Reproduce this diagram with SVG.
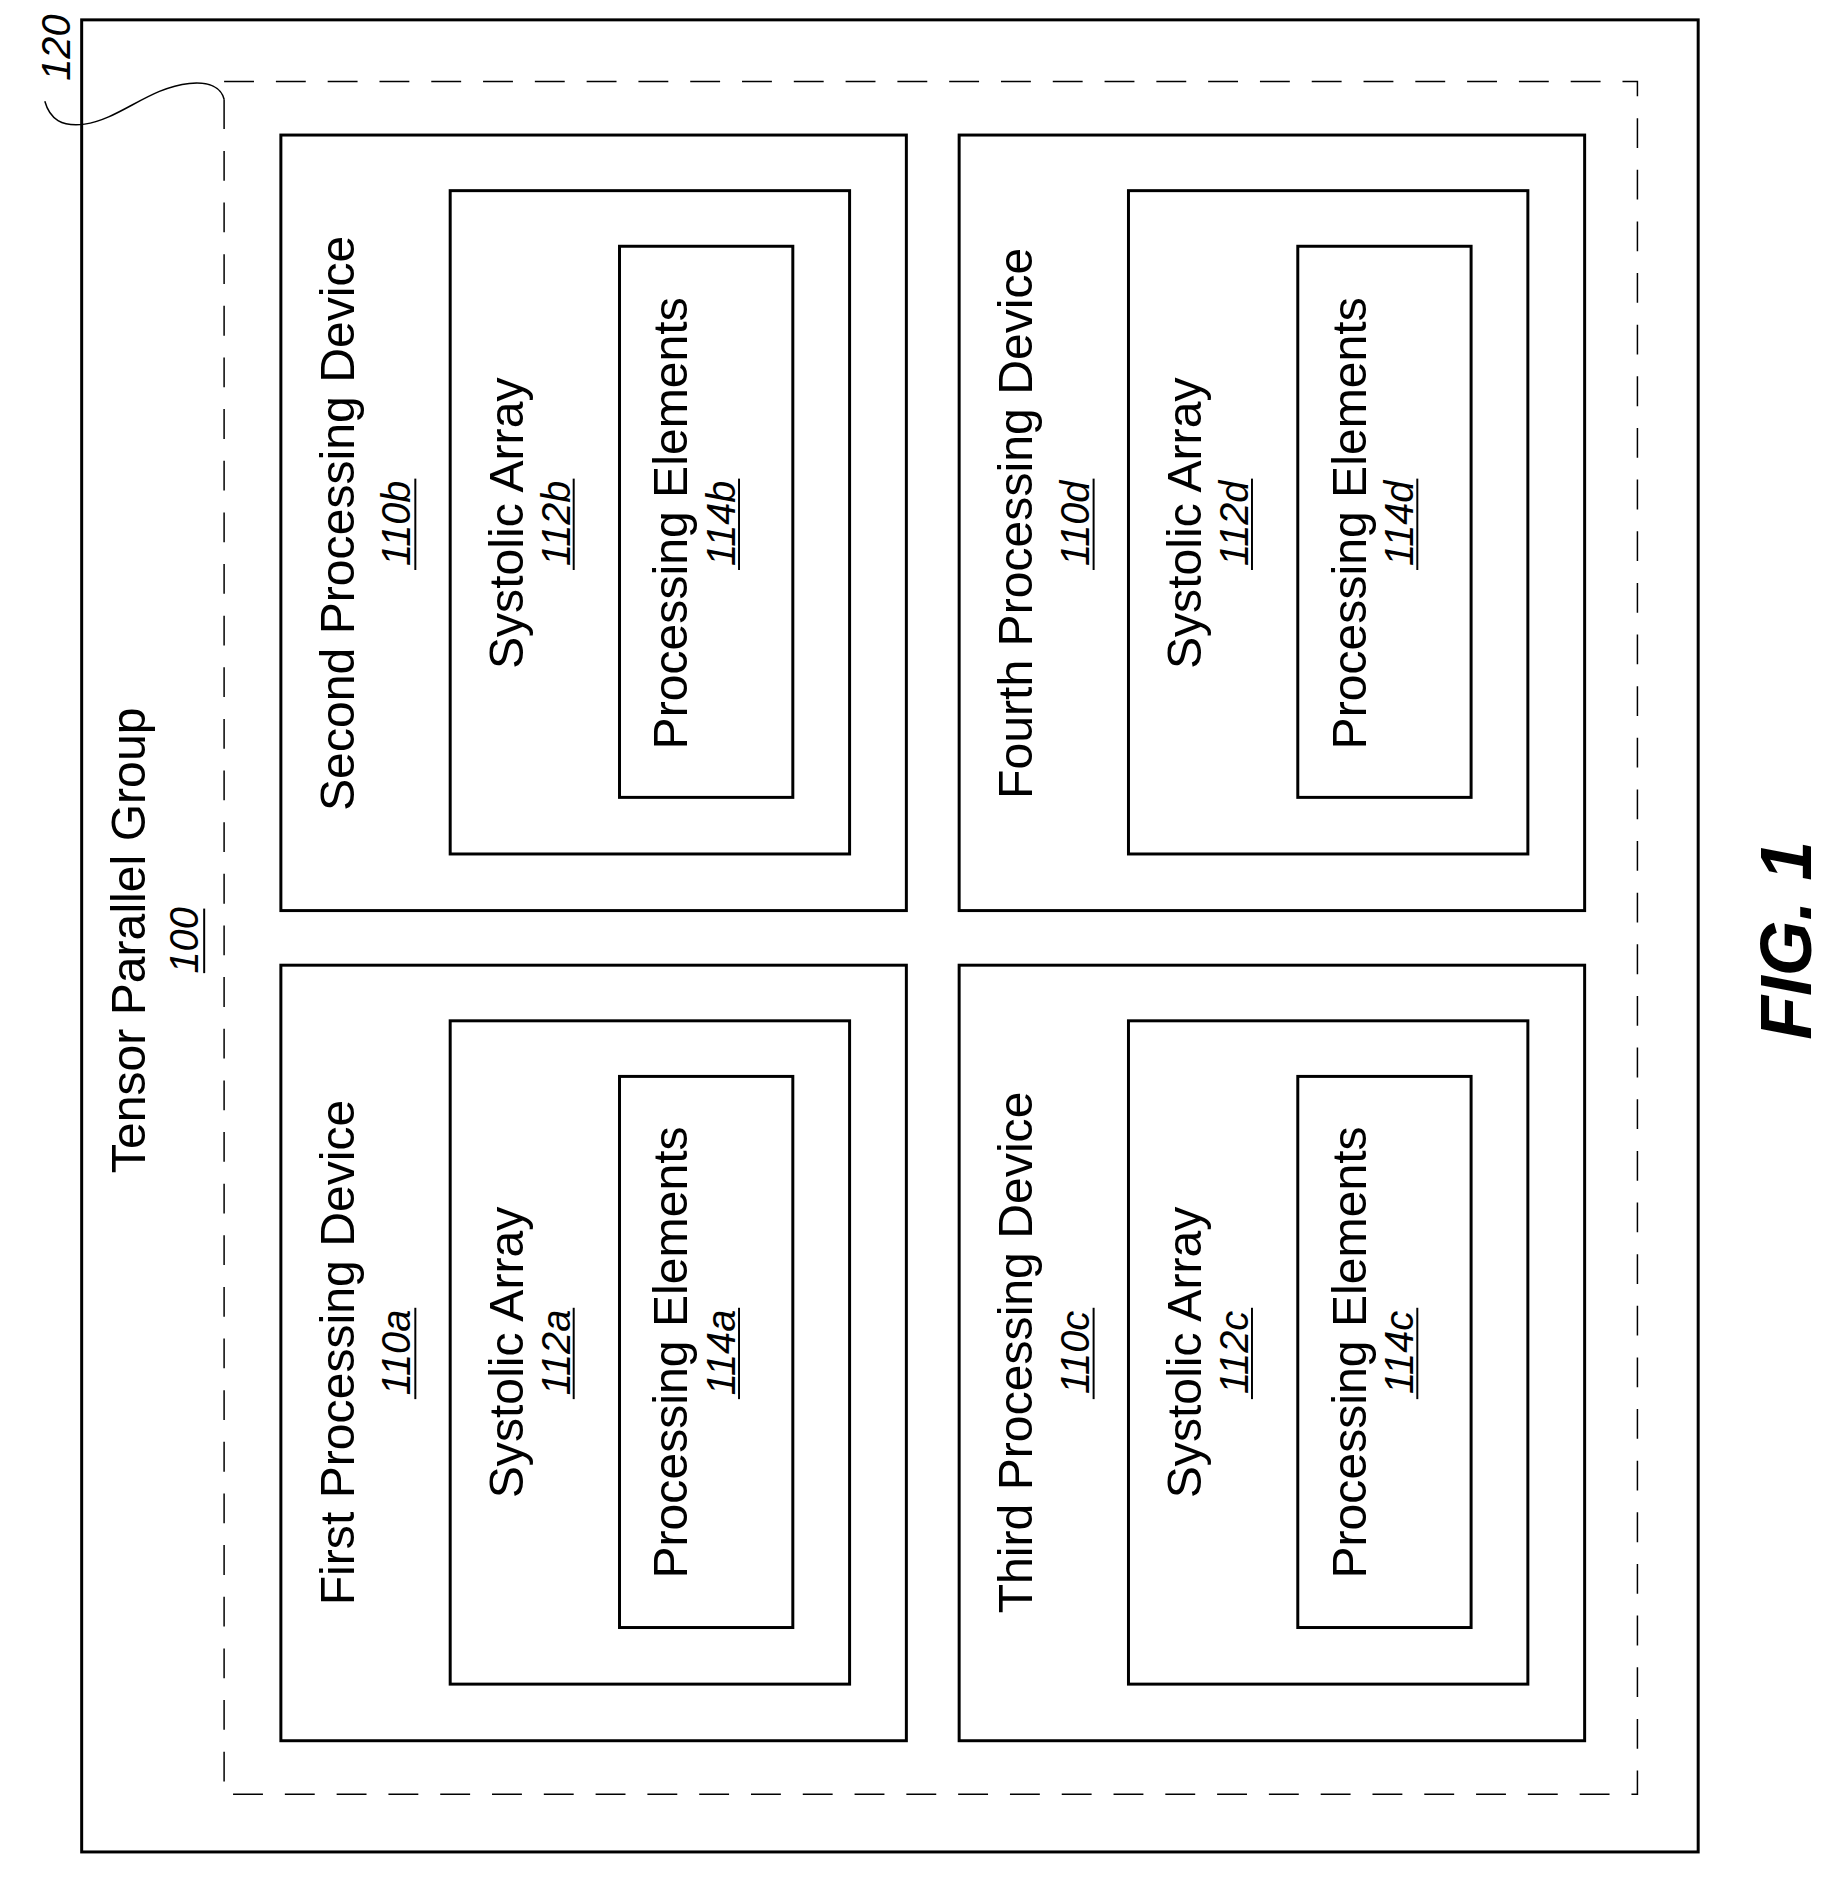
<svg xmlns="http://www.w3.org/2000/svg" width="1843" height="1878" viewBox="0 0 1843 1878">
<style>
.b{fill:none;stroke:#000;stroke-width:3}
.t{font-family:"Liberation Sans",Arial,sans-serif;font-size:48.5px;text-anchor:middle}
.n{font-family:"Liberation Sans",Arial,sans-serif;font-size:40px;font-style:italic;text-anchor:middle}
.u{stroke:#000;stroke-width:2}
</style>
<rect width="1843" height="1878" fill="#fff"/>
<g transform="scale(0.996,0.993)">
<g id="group120">
<rect class="b" x="82" y="20" width="1623" height="1845"/>
<rect x="225" y="82" width="1419" height="1725" fill="none" stroke="#000" stroke-width="1.5" stroke-dasharray="30,22"/>
<text class="t" transform="translate(146,947) rotate(-90)">Tensor Parallel Group</text>
<text class="n" transform="translate(199,947) rotate(-90)">100</text>
<line class="u" x1="205" y1="915" x2="205" y2="980"/>
<text class="n" transform="translate(70,48) rotate(-90)">120</text>
</g>
<g id="connectors">
<path d="M45,102 C50,120 62,128 85,125 C120,120 150,88 190,84 C210,82 222,88 225,100" fill="none" stroke="#000" stroke-width="1.5"/>
</g>
<defs>
<g id="dev">
<rect class="b" x="282" y="0" width="628" height="781"/>
<rect class="b" x="452" y="56" width="401" height="668"/>
<rect class="b" x="622" y="112" width="174" height="555"/>
</g>
</defs>
<g id="dev110b">
<use href="#dev" y="136"/>
<text class="t" transform="translate(355,527) rotate(-90)">Second Processing Device</text>
<text class="n" transform="translate(412,527) rotate(-90)">110b</text><line class="u" x1="417" y1="482" x2="417" y2="574"/>
<text class="t" transform="translate(525,527) rotate(-90)">Systolic Array</text>
<text class="n" transform="translate(572,527) rotate(-90)">112b</text><line class="u" x1="576" y1="482" x2="576" y2="574"/>
<text class="t" transform="translate(690,527) rotate(-90)">Processing Elements</text>
<text class="n" transform="translate(738,527) rotate(-90)">114b</text><line class="u" x1="742" y1="482" x2="742" y2="574"/>
</g>
<g id="dev110a">
<use href="#dev" y="972"/>
<text class="t" transform="translate(355,1362) rotate(-90)">First Processing Device</text>
<text class="n" transform="translate(412,1362) rotate(-90)">110a</text><line class="u" x1="417" y1="1317" x2="417" y2="1409"/>
<text class="t" transform="translate(525,1362) rotate(-90)">Systolic Array</text>
<text class="n" transform="translate(572,1362) rotate(-90)">112a</text><line class="u" x1="576" y1="1317" x2="576" y2="1409"/>
<text class="t" transform="translate(690,1362) rotate(-90)">Processing Elements</text>
<text class="n" transform="translate(738,1362) rotate(-90)">114a</text><line class="u" x1="742" y1="1317" x2="742" y2="1409"/>
</g>
<g id="dev110d" transform="translate(681,0)">
<use href="#dev" y="136"/>
<text class="t" transform="translate(355,527) rotate(-90)">Fourth Processing Device</text>
<text class="n" transform="translate(412,527) rotate(-90)">110d</text><line class="u" x1="417" y1="482" x2="417" y2="574"/>
<text class="t" transform="translate(525,527) rotate(-90)">Systolic Array</text>
<text class="n" transform="translate(572,527) rotate(-90)">112d</text><line class="u" x1="576" y1="482" x2="576" y2="574"/>
<text class="t" transform="translate(690,527) rotate(-90)">Processing Elements</text>
<text class="n" transform="translate(738,527) rotate(-90)">114d</text><line class="u" x1="742" y1="482" x2="742" y2="574"/>
</g>
<g id="dev110c" transform="translate(681,0)">
<use href="#dev" y="972"/>
<text class="t" transform="translate(355,1362) rotate(-90)">Third Processing Device</text>
<text class="n" transform="translate(412,1362) rotate(-90)">110c</text><line class="u" x1="417" y1="1317" x2="417" y2="1409"/>
<text class="t" transform="translate(525,1362) rotate(-90)">Systolic Array</text>
<text class="n" transform="translate(572,1362) rotate(-90)">112c</text><line class="u" x1="576" y1="1317" x2="576" y2="1409"/>
<text class="t" transform="translate(690,1362) rotate(-90)">Processing Elements</text>
<text class="n" transform="translate(738,1362) rotate(-90)">114c</text><line class="u" x1="742" y1="1317" x2="742" y2="1409"/>
</g>
<text transform="translate(1818,947) rotate(-90)" style="font-family:'Liberation Sans',Arial,sans-serif;font-size:72px;font-weight:bold;font-style:italic;text-anchor:middle">FIG. 1</text>
</g>
</svg>
